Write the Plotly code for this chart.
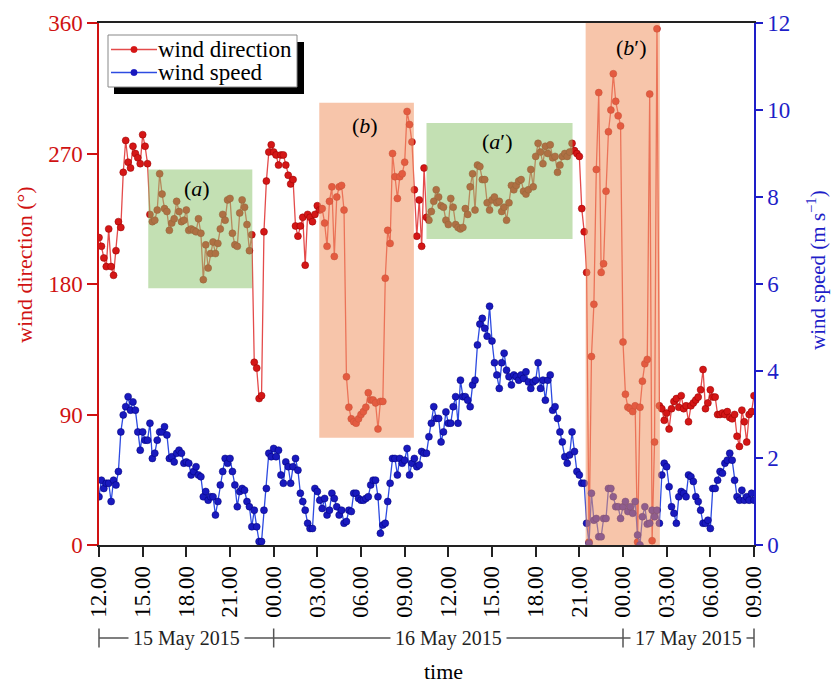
import pandas as pd
import plotly.graph_objects as go

# ---------------- data (10-min samples, 12:00 15 May 2015 -> 09:00 17 May 2015) ----------------
times = pd.date_range("2015-05-15 12:00", "2015-05-17 09:00", freq="10min")

direction_a = [212, 206, 198, 192, 218, 192, 186, 203, 223, 219,
               257, 279, 264, 260, 275, 270, 267, 263, 283, 275,
               263, 228, 223, 224, 231, 256, 242, 232, 230, 217,
               222, 225, 237, 230, 223, 224, 231, 217, 218, 217,
               216, 225, 215, 183, 207, 191, 201, 209, 201, 208,
               218, 228, 224, 238, 239, 215, 207, 206, 229, 238,
               233, 221, 203, 214, 126, 122, 101, 103, 216, 251,
               271, 276]
direction_b = [271, 269, 262, 269, 269, 262, 255, 249, 252, 220,
               213, 220, 226, 193, 228, 226, 223, 228, 234, 231,
               232, 222, 206, 237, 247, 199, 240, 247, 248, 231,
               116, 95, 87, 85, 84, 87, 90, 92, 95, 105,
               100, 100, 98, 80, 99, 99, 184, 217, 208, 270,
               254, 239, 254, 256, 264, 299, 290, 278, 245, 213,
               238, 206, 260, 226, 224]
direction_c = [230, 237, 245, 240, 234, 233, 224, 221, 239, 233,
               221, 219, 218, 219, 232, 228, 247, 256, 231, 262,
               261, 252, 252, 236, 231, 238, 240, 236, 237, 230,
               233, 224, 236, 248, 245, 248, 251, 252, 244, 242,
               245, 259, 247, 268, 277, 271, 263, 275, 270, 276,
               267, 268, 257, 262, 268, 270, 268, 271, 277, 272,
               270, 268]
direction_d = [232, 216, 188, 2, 130, 166, 259, 312, 188, 194,
               244, 285, 300, 325, 306, 296, 289, 140, 104, 95,
               94, 92, 96, 2, 95, 113, 125, 128, 311, 3,
               71, 356, 96]
direction_e = [94, 86, 91, 80, 94, 99, 101, 95, 103, 94,
               96, 85, 96, 98, 100, 102, 107, 121, 94, 98,
               107, 102, 102, 90, 90, 91, 90, 92, 88, 87,
               90, 75, 68, 93, 85, 71, 90, 92, 103]
wind_direction = direction_a + direction_b + direction_c + direction_d + direction_e

speed_a = [1.11, 1.49, 1.30, 1.42, 1.42, 1.00, 1.49, 1.38, 1.69, 2.60,
           2.99, 3.18, 3.41, 3.10, 3.29, 3.10, 2.60, 2.18, 2.60, 2.41,
           2.41, 2.80, 1.99, 2.11, 2.41, 2.60, 2.60, 2.72, 2.53, 1.99,
           2.03, 1.91, 2.11, 2.18, 2.11, 1.88, 1.91, 1.88, 1.61, 1.69,
           1.80, 1.61, 1.57, 1.11, 1.23, 1.03, 1.11, 1.11, 0.69, 1.00,
           1.38, 1.69, 1.99, 1.88, 1.99, 1.69, 1.38, 0.88, 1.23, 1.30,
           1.26, 1.00, 0.88, 0.42, 0.80, 0.42, 0.08, 0.08, 0.80, 1.30,
           2.11, 2.03]
speed_b = [2.22, 2.03, 2.18, 1.61, 1.42, 1.91, 1.80, 1.42, 1.80, 1.99,
           1.72, 1.19, 1.00, 0.80, 0.50, 0.38, 0.38, 1.30, 1.23, 1.03,
           0.84, 1.07, 0.69, 0.80, 1.19, 1.07, 0.88, 0.69, 0.80, 0.50,
           0.54, 0.80, 0.77, 1.19, 1.19, 1.07, 1.03, 1.03, 1.07, 1.11,
           1.38, 1.49, 1.49, 1.11, 0.27, 0.46, 0.50, 1.00, 1.42, 1.99,
           1.99, 1.61, 1.99, 1.88, 1.95, 2.22, 1.61, 1.88, 1.99, 1.80,
           1.84, 2.15, 2.11, 2.11, 2.49]
speed_c = [2.80, 3.18, 2.91, 2.91, 2.37, 2.60, 3.06, 2.80, 2.80, 3.18,
           3.41, 2.80, 3.79, 3.41, 3.41, 3.33, 3.18, 3.68, 3.79, 4.60,
           5.08, 5.21, 4.98, 4.80, 5.49, 4.69, 4.19, 3.91, 3.60, 4.19,
           4.41, 4.02, 3.87, 3.68, 3.91, 3.87, 3.79, 3.91, 3.83, 3.98,
           3.75, 3.60, 3.75, 3.79, 4.19, 3.60, 3.79, 3.33, 3.79, 3.91,
           3.10, 3.18, 2.91, 2.60, 2.37, 2.03, 1.88, 2.07, 2.60, 2.15,
           1.69, 1.61]
speed_d = [1.42, 1.42, 0.50, 0.04, 1.19, 0.57, 0.61, 0.19, 0.19, 0.61,
           0.61, 1.30, 1.30, 1.11, 0.88, 0.88, 0.61, 0.88, 1.00, 0.77,
           0.88, 0.73, 1.00, 0.23, 0.00, 0.65, 0.88, 0.48, 0.50, 0.80,
           0.65, 0.80, 0.50]
speed_e = [1.61, 1.88, 1.80, 1.34, 0.88, 0.73, 0.50, 1.11, 1.23, 1.19,
           1.11, 1.61, 1.57, 1.46, 1.11, 1.00, 0.80, 0.50, 0.50, 0.57,
           0.38, 1.30, 1.30, 1.49, 1.69, 1.65, 1.88, 1.95, 2.11, 1.95,
           1.49, 1.11, 1.03, 1.26, 1.03, 1.11, 1.03, 1.19, 1.03]
wind_speed = speed_a + speed_b + speed_c + speed_d + speed_e

tick_times = pd.date_range("2015-05-15 12:00", "2015-05-17 09:00", freq="3h")
tick_labels = [t.strftime("%H.%M") for t in tick_times]
dir_ticks = [0, 90, 180, 270, 360]

# highlighted episodes: (label, start, end, dir_low, dir_high, kind)
regions = [
    ("(<i>a</i>)", "2015-05-15 15:23", "2015-05-15 22:32", 177, 259, "g"),
    ("(<i>b</i>)", "2015-05-16 03:08", "2015-05-16 09:38", 74, 305, "o"),
    ("(<i>a</i>′)", "2015-05-16 10:30", "2015-05-16 20:32", 211, 291, "g"),
    ("(<i>b</i>′)", "2015-05-16 21:26", "2015-05-17 02:32", 0, 360, "o"),
]
label_pos = [("2015-05-15 18:44", 246), ("2015-05-16 06:16", 289),
             ("2015-05-16 15:20", 278), ("2015-05-17 00:32", 343)]

days = [("15 May 2015", "2015-05-15 12:00", "2015-05-16 00:00"),
        ("16 May 2015", "2015-05-16 00:00", "2015-05-17 00:00"),
        ("17 May 2015", "2015-05-17 00:00", "2015-05-17 09:00")]
series_names = ["wind direction", "wind speed"]

# ---------------- figure ----------------
FONT = "Liberation Serif"
RED = "rgb(208,18,18)"
BLUE = "rgb(30,30,200)"
RED_LINE, RED_MARK = "rgb(228,75,75)", "rgb(212,22,22)"
BLUE_LINE, BLUE_MARK = "rgb(45,75,225)", "rgb(25,25,190)"
t0, t1 = times[0], times[-1]
span = (t1 - t0).total_seconds()
W, H = 832, 684
ML, MR, MT, MB = 99, 78, 23, 139
PW, PH = W - ML - MR, H - MT - MB


def xp_time(t):
    return (pd.Timestamp(t) - t0).total_seconds() / span


def xp(px):
    return (px - ML) / PW


def yp(py):
    return (H - MB - py) / PH


fig = go.Figure()
fig.add_trace(go.Scatter(
    x=times, y=wind_direction, mode="lines+markers", name=series_names[0],
    line=dict(color=RED_LINE, width=1.3),
    marker=dict(color=RED_MARK, size=7, line=dict(color="rgb(150,0,0)", width=0.5)),
    yaxis="y"))
fig.add_trace(go.Scatter(
    x=times, y=wind_speed, mode="lines+markers", name=series_names[1],
    line=dict(color=BLUE_LINE, width=1.3),
    marker=dict(color=BLUE_MARK, size=7, line=dict(color="rgb(0,0,120)", width=0.5)),
    yaxis="y2"))

shapes = []
annotations = []
for (lab, xs, xe, ylo, yhi, kind), (lx, ly) in zip(regions, label_pos):
    fill = "rgba(140,195,110,0.52)" if kind == "g" else "rgba(240,150,100,0.55)"
    shapes.append(dict(type="rect", xref="x", yref="y", x0=xs, x1=xe, y0=ylo, y1=yhi,
                       fillcolor=fill, line=dict(width=0), layer="above"))
    annotations.append(dict(x=lx, y=ly, xref="x", yref="y", text=lab, showarrow=False,
                            font=dict(family=FONT, size=22, color="black")))

# date brackets under the axis
by = yp(638)
tick_h = 9.5 / PH
shapes.append(dict(type="line", xref="paper", yref="paper", x0=0, x1=1, y0=by, y1=by,
                   line=dict(color="#555", width=1.5)))
for d in ["2015-05-15 12:00", "2015-05-16 00:00", "2015-05-17 00:00", "2015-05-17 09:00"]:
    x = xp_time(d)
    shapes.append(dict(type="line", xref="paper", yref="paper", x0=x, x1=x,
                       y0=by - tick_h, y1=by + tick_h, line=dict(color="#555", width=1.5)))
for name, ds, de in days:
    annotations.append(dict(x=(xp_time(ds) + xp_time(de)) / 2, y=by, xref="paper", yref="paper",
                            xanchor="center", yanchor="middle",
                            text=name, showarrow=False, bgcolor="white", borderpad=4,
                            font=dict(family=FONT, size=20, color="#222")))
annotations.append(dict(x=xp(443), y=yp(671), xref="paper", yref="paper", text="time",
                        xanchor="center", yanchor="middle",
                        showarrow=False, font=dict(family=FONT, size=22, color="black")))

# axis titles
annotations.append(dict(x=xp(24), y=yp(265), xref="paper", yref="paper", textangle=-90,
                        text="wind direction (°)", showarrow=False, xanchor="center", yanchor="middle",
                        font=dict(family=FONT, size=22, color=RED)))
annotations.append(dict(x=xp(816), y=yp(270), xref="paper", yref="paper", textangle=-90,
                        text="wind speed (m s<sup>−1</sup>)", showarrow=False,
                        xanchor="center", yanchor="middle",
                        font=dict(family=FONT, size=21, color=BLUE)))

# legend box with drop shadow
shapes.append(dict(type="rect", xref="paper", yref="paper", x0=xp(114), x1=xp(304),
                   y0=yp(94), y1=yp(42), fillcolor="black", line=dict(width=0), layer="above"))
shapes.append(dict(type="rect", xref="paper", yref="paper", x0=xp(108), x1=xp(297),
                   y0=yp(87), y1=yp(35), fillcolor="white", line=dict(color="#888", width=1),
                   layer="above"))
for name, lc, mc, py in [(series_names[0], RED_LINE, RED_MARK, 49.5),
                         (series_names[1], BLUE_LINE, BLUE_MARK, 72.5)]:
    shapes.append(dict(type="line", xref="paper", yref="paper", x0=xp(111), x1=xp(157),
                       y0=yp(py), y1=yp(py), line=dict(color=lc, width=1.5), layer="above"))
    shapes.append(dict(type="circle", xref="paper", yref="paper", x0=xp(130.8), x1=xp(137.2),
                       y0=yp(py + 3.2), y1=yp(py - 3.2), fillcolor=mc,
                       line=dict(color=mc, width=0.5), layer="above"))
    annotations.append(dict(x=xp(156), y=yp(py), xref="paper", yref="paper", text=name,
                            showarrow=False, xanchor="left", yanchor="middle",
                            font=dict(family=FONT, size=23, color="black")))

fig.update_layout(
    width=W, height=H, autosize=False,
    margin=dict(l=ML, r=MR, t=MT, b=MB, autoexpand=False),
    paper_bgcolor="white", plot_bgcolor="white",
    font=dict(family=FONT, size=22, color="black"),
    showlegend=False,
    xaxis=dict(range=[t0, t1], tickvals=list(tick_times), ticktext=tick_labels,
               tickangle=-90, ticks="outside", ticklen=10, tickcolor="#222", tickwidth=1.5,
               showline=True, linecolor="#222", linewidth=1.5, mirror=True,
               showgrid=False, zeroline=False,
               tickfont=dict(family=FONT, size=23, color="black")),
    yaxis=dict(range=[0, 360], tickvals=dir_ticks, ticks="outside", ticklen=10,
               tickcolor=RED, tickwidth=1.5, showline=True, linecolor=RED, linewidth=1.5,
               showgrid=False, zeroline=False,
               tickfont=dict(family=FONT, size=23, color=RED)),
    yaxis2=dict(range=[0, 12], dtick=2, overlaying="y", side="right", ticks="outside",
                ticklen=7, tickcolor=BLUE, tickwidth=1.5, showline=True, linecolor=BLUE,
                linewidth=1.5, showgrid=False, zeroline=False,
                tickfont=dict(family=FONT, size=23, color=BLUE)),
    shapes=shapes, annotations=annotations,
)

fig.write_html("out.html")
